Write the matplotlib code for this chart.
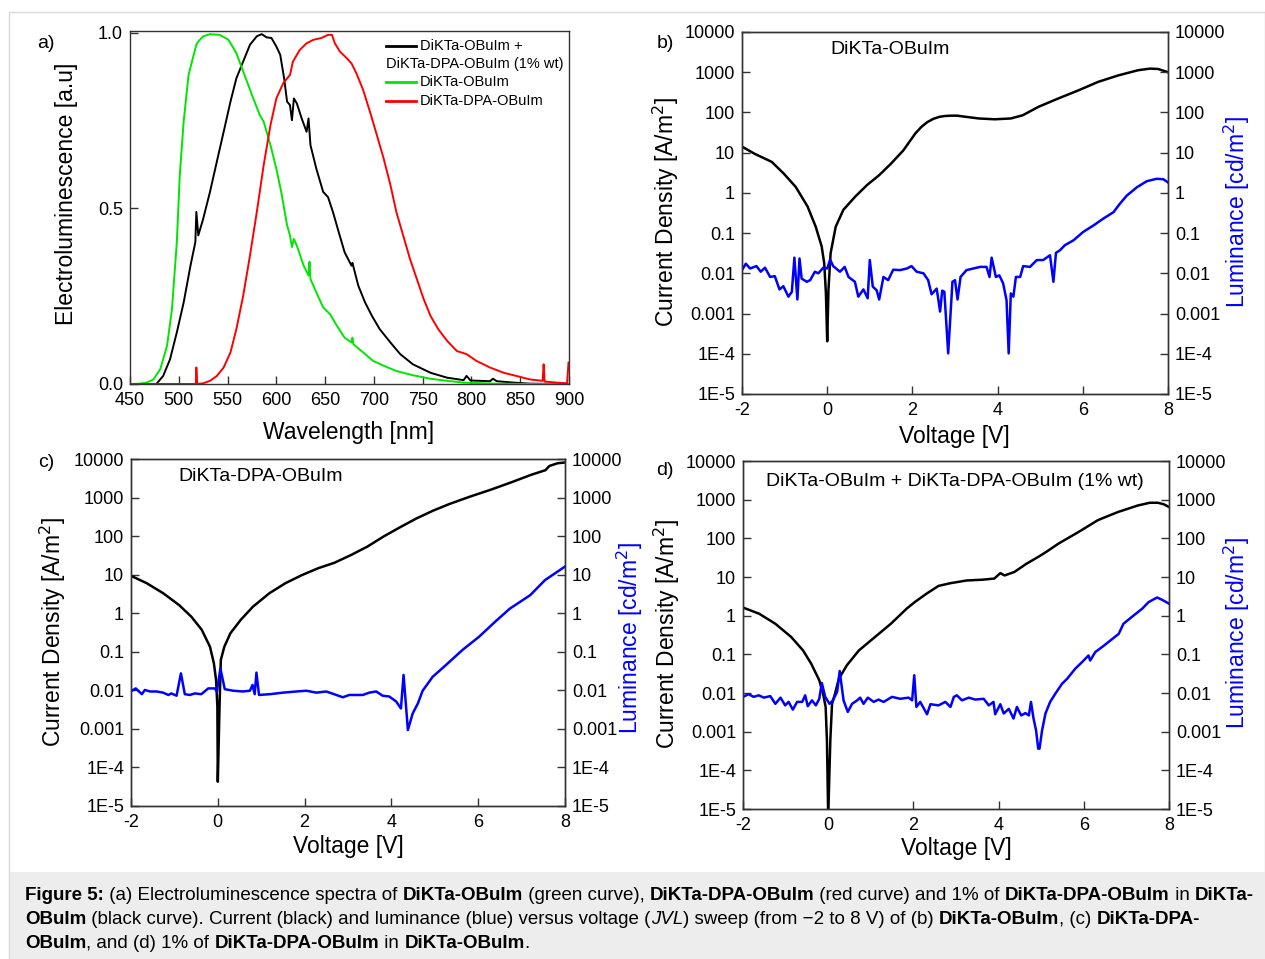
import numpy as np
import matplotlib.pyplot as plt
import matplotlib.patches as patches
from matplotlib.ticker import FixedLocator, FixedFormatter, NullLocator

plt.rcParams['font.family'] = ['Liberation Sans', 'DejaVu Sans']
plt.rcParams['axes.unicode_minus'] = False

W, H = 1265, 959

### Panel a: electroluminescence spectra (wavelength nm, normalised intensity) ###

wl_green = [450, 460, 467, 474, 481, 488, 493, 498, 501, 505, 510, 518, 520, 525, 532, 542, 551, 559,
            566, 575, 583, 587, 594, 600, 605, 611, 614, 616, 618, 621, 628, 633, 634, 635, 641, 648,
            655, 662, 670, 677, 678, 679, 689, 699, 710, 723, 740, 758, 775, 792, 826, 860, 900]
el_green = [0.0, 0.001, 0.004, 0.013, 0.042, 0.109, 0.213, 0.404, 0.594, 0.747, 0.88, 0.966, 0.975,
            0.99, 0.996, 0.994, 0.98, 0.942, 0.89, 0.823, 0.766, 0.747, 0.68, 0.613, 0.547, 0.452,
            0.423, 0.39, 0.413, 0.394, 0.337, 0.309, 0.348, 0.299, 0.261, 0.218, 0.199, 0.166,
            0.132, 0.118, 0.132, 0.113, 0.09, 0.066, 0.052, 0.037, 0.025, 0.015, 0.009, 0.004,
            0.001, 0.0, 0.0]

wl_black = [450, 477, 484, 491, 498, 505, 512, 517, 518, 520, 525, 532, 539, 546, 553, 559, 566, 573,
            580, 585, 590, 595, 600, 604, 608, 611, 614, 616, 618, 621, 626, 631, 633, 635, 641, 648,
            653, 658, 664, 670, 677, 678, 684, 691, 698, 706, 717, 727, 740, 758, 775, 792, 795, 799,
            819, 822, 826, 843, 860, 900]
el_black = [0.0, 0.0, 0.023, 0.07, 0.147, 0.232, 0.337, 0.404, 0.49, 0.423, 0.47, 0.547, 0.633, 0.718,
            0.804, 0.87, 0.918, 0.966, 0.99, 0.996, 0.987, 0.985, 0.961, 0.937, 0.87, 0.804, 0.794,
            0.751, 0.813, 0.799, 0.756, 0.718, 0.756, 0.68, 0.613, 0.547, 0.532, 0.49, 0.432, 0.375,
            0.337, 0.345, 0.28, 0.232, 0.194, 0.156, 0.118, 0.085, 0.056, 0.032, 0.018, 0.011,
            0.023, 0.01, 0.008, 0.015, 0.008, 0.004, 0.001, 0.0]

wl_red = [450, 501, 517.5, 518, 519, 525, 532, 539, 546, 553, 559, 566, 573, 580, 587, 594, 600, 607,
          614, 617, 624, 631, 638, 646, 653, 657, 660, 665, 672, 677, 682, 689, 696, 703, 710, 717,
          723, 730, 737, 744, 751, 758, 766, 775, 785, 795, 805, 819, 833, 846, 860, 873, 874, 875,
          887, 898, 899.5]
el_red = [0.0, 0.0, 0.0, 0.047, 0.0, 0.002, 0.009, 0.023, 0.047, 0.09, 0.156, 0.251, 0.366, 0.49,
          0.623, 0.737, 0.813, 0.856, 0.88, 0.918, 0.951, 0.97, 0.98, 0.985, 0.994, 0.994, 0.97,
          0.947, 0.928, 0.913, 0.885, 0.837, 0.775, 0.709, 0.642, 0.566, 0.49, 0.423, 0.356, 0.299,
          0.242, 0.194, 0.156, 0.123, 0.094, 0.085, 0.066, 0.047, 0.032, 0.023, 0.013, 0.009,
          0.056, 0.007, 0.004, 0.002, 0.061]

### Panels b-d: JVL sweeps, values stored as log10 ###

v_b_j = [-2, -1.7, -1.3, -1.02, -0.74, -0.46, -0.27, -0.13, -0.07, -0.03, 0.0, 0.03, 0.08, 0.2, 0.38,
         0.66, 0.94, 1.22, 1.5, 1.79, 2.07, 2.21, 2.35, 2.49, 2.63, 2.75, 2.9, 3.05, 3.19, 3.56, 3.93,
         4.31, 4.59, 4.96, 5.43, 5.9, 6.36, 6.83, 7.3, 7.58, 7.77, 8.0]
logj_b = [1.15, 0.97, 0.77, 0.48, 0.15, -0.34, -0.84, -1.33, -1.75, -2.5, -3.69, -2.4, -1.5, -0.84,
          -0.42, -0.09, 0.2, 0.44, 0.73, 1.06, 1.48, 1.64, 1.76, 1.84, 1.89, 1.91, 1.92, 1.92, 1.9,
          1.85, 1.83, 1.85, 1.93, 2.14, 2.35, 2.55, 2.76, 2.92, 3.05, 3.09, 3.08, 3.0]

v_b_l = [-2.0, -1.91, -1.81, -1.66, -1.56, -1.46, -1.34, -1.23, -1.12, -1.03, -0.91, -0.83, -0.77,
         -0.70, -0.65, -0.60, -0.48, -0.40, -0.29, -0.21, -0.09, 0.0, 0.07, 0.14, 0.30, 0.41, 0.50,
         0.65, 0.73, 0.85, 0.95, 1.00, 1.07, 1.16, 1.22, 1.32, 1.43, 1.55, 1.71, 1.87, 1.98, 2.10,
         2.26, 2.37, 2.45, 2.57, 2.65, 2.70, 2.75, 2.84, 2.94, 3.0, 3.06, 3.13, 3.27, 3.43, 3.59,
         3.74, 3.81, 3.86, 3.96, 4.04, 4.13, 4.21, 4.26, 4.31, 4.37, 4.43, 4.53, 4.60, 4.76, 4.92,
         5.07, 5.23, 5.31, 5.37, 5.46, 5.58, 5.78, 6.01, 6.25, 6.48, 6.72, 6.87, 7.03, 7.27, 7.50,
         7.73, 7.89, 8.0]
logl_b = [-1.92, -1.76, -1.88, -1.82, -1.96, -1.86, -2.09, -2.07, -2.40, -2.32, -2.58, -2.46, -1.61,
          -2.65, -1.63, -2.13, -2.21, -2.17, -1.96, -2.0, -1.86, -1.88, -1.66, -1.82, -1.96, -1.84,
          -2.09, -2.21, -2.58, -2.40, -2.62, -1.67, -2.33, -2.42, -2.65, -2.09, -2.17, -1.91, -1.92,
          -1.88, -1.82, -1.96, -2.0, -2.17, -2.52, -2.38, -2.95, -2.43, -2.46, -3.99, -2.21, -2.17,
          -2.65, -2.09, -1.92, -1.88, -1.84, -1.84, -2.09, -1.61, -2.09, -2.05, -2.25, -2.67, -3.99,
          -2.5, -2.58, -2.09, -2.09, -1.82, -1.84, -1.67, -1.67, -1.55, -2.21, -1.49, -1.43, -1.30,
          -1.18, -0.97, -0.81, -0.64, -0.48, -0.27, -0.07, 0.14, 0.29, 0.35, 0.34, 0.26]

v_c_j = [-2, -1.64, -1.26, -0.89, -0.61, -0.37, -0.18, -0.09, -0.04, -0.01, 0.0, 0.04, 0.07, 0.15,
         0.29, 0.53, 0.81, 1.19, 1.56, 1.94, 2.32, 2.69, 3.07, 3.45, 3.82, 4.20, 4.58, 4.96, 5.33,
         5.80, 6.28, 6.75, 7.22, 7.55, 7.64, 7.83, 8.0]
logj_c = [0.97, 0.78, 0.52, 0.21, -0.09, -0.43, -0.87, -1.30, -1.73, -2.42, -4.37, -2.42, -1.21,
          -0.87, -0.52, -0.17, 0.17, 0.52, 0.78, 0.99, 1.17, 1.31, 1.51, 1.73, 1.99, 2.23, 2.46,
          2.66, 2.83, 3.02, 3.20, 3.39, 3.59, 3.71, 3.82, 3.89, 3.91]

v_c_l = [-1.98, -1.89, -1.75, -1.68, -1.56, -1.41, -1.26, -1.14, -1.07, -0.95, -0.85, -0.76, -0.64,
         -0.53, -0.38, -0.22, -0.07, -0.02, 0.06, 0.16, 0.35, 0.58, 0.74, 0.80, 0.85, 0.89, 0.95,
         1.20, 1.50, 1.81, 2.04, 2.27, 2.50, 2.73, 2.88, 3.03, 3.34, 3.49, 3.65, 3.80, 3.95, 4.11,
         4.22, 4.28, 4.38, 4.49, 4.61, 4.72, 4.95, 5.26, 5.64, 6.02, 6.41, 6.73, 7.2, 7.54, 8.0]
logl_c = [-2.01, -1.95, -2.10, -1.99, -2.03, -2.03, -2.06, -2.12, -2.08, -2.14, -1.56, -2.10, -2.12,
          -2.08, -2.10, -1.95, -1.95, -2.03, -1.43, -1.97, -2.01, -2.03, -2.01, -1.86, -2.10, -1.54,
          -2.12, -2.10, -2.06, -2.03, -2.01, -2.06, -2.03, -2.12, -2.18, -2.12, -2.12, -2.06, -2.03,
          -2.14, -2.16, -2.29, -2.47, -1.60, -3.03, -2.60, -2.34, -2.01, -1.65, -1.34, -0.95, -0.61,
          -0.20, 0.12, 0.47, 0.86, 1.21]

v_d_j = [-2, -1.62, -1.24, -0.87, -0.59, -0.40, -0.21, -0.12, -0.06, -0.03, 0.0, 0.05, 0.09, 0.16,
         0.25, 0.44, 0.72, 1.10, 1.47, 1.84, 2.03, 2.31, 2.59, 2.87, 3.25, 3.62, 3.90, 4.04, 4.14,
         4.37, 4.65, 4.93, 5.12, 5.40, 5.87, 6.33, 6.80, 7.27, 7.55, 7.74, 7.88, 8.0]
logj_d = [0.21, 0.05, -0.21, -0.55, -0.90, -1.24, -1.67, -2.02, -2.36, -3.22, -5.2, -3.22, -2.28,
          -2.02, -1.63, -1.28, -0.90, -0.55, -0.21, 0.18, 0.35, 0.57, 0.77, 0.84, 0.91, 0.93, 0.96,
          1.10, 1.04, 1.13, 1.34, 1.52, 1.65, 1.86, 2.16, 2.47, 2.68, 2.85, 2.92, 2.92, 2.88, 2.81]

v_d_l = [-1.98, -1.87, -1.75, -1.63, -1.51, -1.36, -1.24, -1.12, -1.01, -0.93, -0.83, -0.73, -0.61,
         -0.54, -0.48, -0.38, -0.29, -0.21, -0.15, -0.07, 0.03, 0.11, 0.21, 0.27, 0.36, 0.46, 0.56,
         0.68, 0.75, 0.83, 0.93, 1.07, 1.18, 1.30, 1.50, 1.69, 1.89, 1.97, 2.02, 2.07, 2.16, 2.32,
         2.40, 2.59, 2.75, 2.87, 2.95, 3.02, 3.14, 3.30, 3.45, 3.65, 3.77, 3.88, 3.92, 4.04, 4.12,
         4.24, 4.35, 4.43, 4.53, 4.63, 4.71, 4.76, 4.82, 4.88, 4.93, 4.96, 5.02, 5.10, 5.21, 5.33,
         5.49, 5.61, 5.80, 5.96, 6.11, 6.15, 6.27, 6.43, 6.58, 6.82, 6.93, 7.13, 7.37, 7.52, 7.72,
         7.84, 8.0]
logl_d = [-2.09, -2.03, -2.10, -2.06, -2.12, -2.08, -2.28, -2.12, -2.32, -2.23, -2.43, -2.23, -2.23,
          -2.06, -2.34, -2.19, -2.32, -2.15, -1.74, -2.10, -2.28, -2.19, -1.97, -1.43, -2.19, -2.49,
          -2.28, -2.19, -2.12, -2.28, -2.12, -2.23, -2.17, -2.23, -2.10, -2.15, -2.12, -2.19, -1.54,
          -2.36, -2.23, -2.55, -2.29, -2.32, -2.23, -2.36, -2.10, -2.06, -2.19, -2.12, -2.17, -2.15,
          -2.32, -2.23, -2.55, -2.29, -2.53, -2.41, -2.66, -2.36, -2.58, -2.52, -2.58, -2.23, -2.66,
          -2.97, -3.44, -3.44, -2.97, -2.53, -2.23, -2.02, -1.76, -1.63, -1.37, -1.20, -1.03, -1.16,
          -0.94, -0.81, -0.68, -0.47, -0.21, -0.03, 0.18, 0.35, 0.47, 0.41, 0.31]

log_ticks = [1e-5, 1e-4, 1e-3, 1e-2, 1e-1, 1, 10, 100, 1000, 10000]
log_labels = ['1E-5', '1E-4', '0.001', '0.01', '0.1', '1', '10', '100', '1000', '10000']
volt_ticks = [-2, 0, 2, 4, 6, 8]
wl_ticks = [450, 500, 550, 600, 650, 700, 750, 800, 850, 900]

SPINE = '#333333'
TICK_FS = 13
LABEL_FS = 16.5
BLUE = '#0000ff'


def px_axes(fig, left, top, right, bottom):
    return fig.add_axes([left / W, 1 - bottom / H, (right - left) / W, (bottom - top) / H])


def fig_text(fig, x, y, s, **kw):
    return fig.text(x / W, 1 - y / H, s, **kw)


def style_spines(ax):
    for sp in ax.spines.values():
        sp.set_color(SPINE)
        sp.set_linewidth(1.0)


def jvl_panel(fig, box, vj, lj, vl, ll, title, title_xy):
    ax = px_axes(fig, *box)
    ax.plot(vj, np.power(10.0, lj), color='black', lw=1.8)
    ax.set_yscale('log')
    ax.set_xlim(-2, 8)
    ax.set_ylim(1e-5, 1e4)
    ax.yaxis.set_major_locator(FixedLocator(log_ticks))
    ax.yaxis.set_major_formatter(FixedFormatter(log_labels))
    ax.yaxis.set_minor_locator(NullLocator())
    ax.set_xticks(volt_ticks)
    ax.tick_params(axis='y', direction='in', length=6, width=1, color=SPINE, labelsize=TICK_FS, pad=5)
    ax.tick_params(axis='x', direction='in', length=6, width=1, color=SPINE, labelsize=TICK_FS, pad=6)
    style_spines(ax)

    ax2 = ax.twinx()
    ax2.plot(vl, np.power(10.0, ll), color=BLUE, lw=1.8)
    ax2.set_yscale('log')
    ax2.set_ylim(1e-5, 1e4)
    ax2.yaxis.set_major_locator(FixedLocator(log_ticks))
    ax2.yaxis.set_major_formatter(FixedFormatter(log_labels))
    ax2.yaxis.set_minor_locator(NullLocator())
    ax2.tick_params(direction='in', length=6, width=1, color=SPINE, labelsize=TICK_FS, pad=5)
    style_spines(ax2)

    fig_text(fig, title_xy[0], title_xy[1], title, fontsize=14, ha='left', va='center')
    return ax


fig = plt.figure(figsize=(W / 100, H / 100), dpi=100)

# page frame and caption box, kept behind the axes
fig.patches.append(patches.Rectangle((9 / W, 0), 1 - 9 / W, 1 - 12 / H, transform=fig.transFigure,
                                     facecolor='white', edgecolor='#d9d9d9', lw=1.0, zorder=-2))
fig.patches.append(patches.Rectangle((10 / W, 0), 1 - 10 / W, (H - 872) / H, transform=fig.transFigure,
                                     facecolor='#ededed', edgecolor='none', zorder=-1))

# (a) spectra
axa = px_axes(fig, 130, 31, 569, 384)
axa.plot(wl_black, el_black, color='black', lw=1.4)
axa.plot(wl_green, el_green, color='#00e600', lw=1.4)
axa.plot(wl_red, el_red, color='#ff0000', lw=1.4)
axa.set_xlim(450, 900)
axa.set_ylim(0, 1.005)
axa.set_xticks(wl_ticks)
axa.set_yticks([0.0, 0.5, 1.0])
axa.set_yticklabels(['0.0', '0.5', '1.0'])
axa.tick_params(axis='y', direction='in', length=6, width=1, color=SPINE, labelsize=TICK_FS, pad=5)
axa.tick_params(axis='x', direction='in', length=6, width=1, color=SPINE, labelsize=TICK_FS, pad=6)
style_spines(axa)

# hand drawn legend, second line of the first entry sits under the handle
leg_items = [(45.7, 'black', 'DiKTa-OBuIm +'), (82.3, '#00e600', 'DiKTa-OBuIm'),
             (100.7, '#ff0000', 'DiKTa-DPA-OBuIm')]
for yy, col, lab in leg_items:
    fig.add_artist(plt.Line2D([386 / W, 416 / W], [1 - yy / H, 1 - yy / H], color=col, lw=2,
                              transform=fig.transFigure))
    fig_text(fig, 420, yy, lab, fontsize=10.5, ha='left', va='center')
fig_text(fig, 386, 64, 'DiKTa-DPA-OBuIm (1% wt)', fontsize=10.5, ha='left', va='center')

fig_text(fig, 67, 194, 'Electroluminescence [a.u]', fontsize=LABEL_FS, rotation=90, ha='center', va='center')
fig_text(fig, 349, 433, 'Wavelength [nm]', fontsize=LABEL_FS, ha='center', va='center')

# (b) (c) (d)
jvl_panel(fig, (742, 32, 1168, 394), v_b_j, logj_b, v_b_l, logl_b, 'DiKTa-OBuIm', (830, 50))
jvl_panel(fig, (131, 459, 565, 806), v_c_j, logj_c, v_c_l, logl_c, 'DiKTa-DPA-OBuIm', (178, 477))
jvl_panel(fig, (743, 461, 1169, 809), v_d_j, logj_d, v_d_l, logl_d,
          'DiKTa-OBuIm + DiKTa-DPA-OBuIm (1% wt)', (766, 481))

jd = 'Current Density [A/m$^2$]'
lum = 'Luminance [cd/m$^2$]'
for x, y in [(666, 212), (53, 632), (667, 634)]:
    fig_text(fig, x, y, jd, fontsize=LABEL_FS, rotation=90, ha='center', va='center')
for x, y in [(1237, 212), (630, 638), (1237, 633)]:
    fig_text(fig, x, y, lum, fontsize=LABEL_FS, rotation=90, ha='center', va='center', color=BLUE)
for x, y in [(954, 437), (348, 847), (956, 848)]:
    fig_text(fig, x, y, 'Voltage [V]', fontsize=LABEL_FS, ha='center', va='center')

for x, y, s in [(46, 43, 'a)'), (665, 43, 'b)'), (46, 463, 'c)'), (665, 470, 'd)')]:
    fig_text(fig, x, y, s, fontsize=14, ha='center', va='center')

# caption with mixed bold / italic runs
caption = [
    [('Figure 5:', 'bold', 'normal'), (' (a) Electroluminescence spectra of ', 'normal', 'normal'),
     ('DiKTa-OBuIm', 'bold', 'normal'), (' (green curve), ', 'normal', 'normal'),
     ('DiKTa-DPA-OBuIm', 'bold', 'normal'), (' (red curve) and 1% of ', 'normal', 'normal'),
     ('DiKTa-DPA-OBuIm', 'bold', 'normal'), (' in ', 'normal', 'normal'), ('DiKTa-', 'bold', 'normal')],
    [('OBuIm', 'bold', 'normal'), (' (black curve). Current (black) and luminance (blue) versus voltage (', 'normal', 'normal'),
     ('JVL', 'normal', 'italic'), (') sweep (from \u22122 to 8 V) of (b) ', 'normal', 'normal'),
     ('DiKTa-OBuIm', 'bold', 'normal'), (', (c) ', 'normal', 'normal'), ('DiKTa-DPA-', 'bold', 'normal')],
    [('OBuIm', 'bold', 'normal'), (', and (d) 1% of ', 'normal', 'normal'), ('DiKTa-DPA-OBuIm', 'bold', 'normal'),
     (' in ', 'normal', 'normal'), ('DiKTa-OBuIm', 'bold', 'normal'), ('.', 'normal', 'normal')],
]
renderer = fig.canvas.get_renderer()
for line, yy in zip(caption, [896, 920, 944]):
    x = 25
    for s, wgt, sty in line:
        t = fig_text(fig, x, yy, s, fontsize=13.5, fontweight=wgt, fontstyle=sty, ha='left', va='center')
        bb = t.get_window_extent(renderer=renderer)
        x = bb.x1

fig.savefig('out.png', dpi=100)
